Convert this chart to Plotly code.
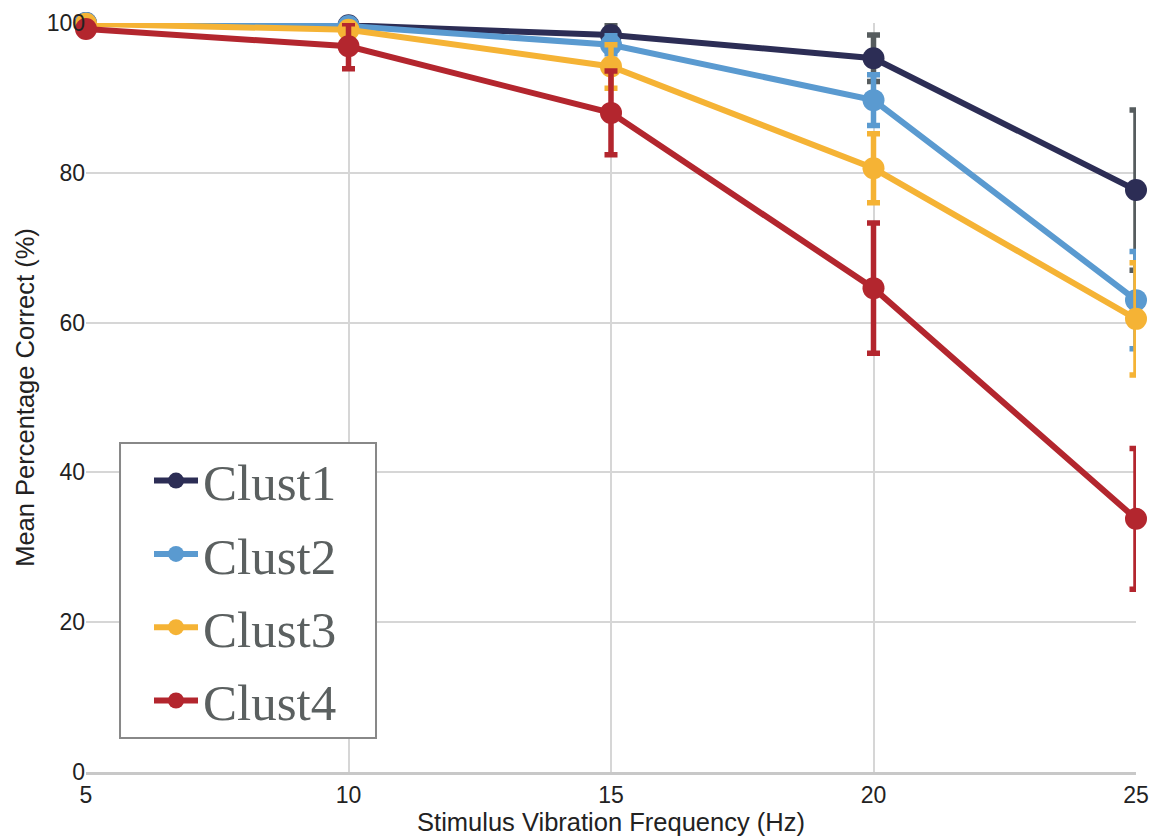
import plotly.graph_objects as go

freq = [5, 10, 15, 20, 25]
series = ["Clust1", "Clust2", "Clust3", "Clust4"]
clust1 = [100.0, 99.7, 98.4, 95.3, 77.7]
clust1_err = [0.3, 0.4, 1.3, 3.1, 10.7]
clust2 = [100.0, 99.6, 97.1, 89.7, 63.0]
clust2_err = [0.3, 0.6, 1.2, 3.4, 6.5]
clust3 = [99.9, 99.1, 94.2, 80.6, 60.5]
clust3_err = [0.3, 0.8, 2.9, 4.6, 7.5]
clust4 = [99.2, 96.9, 88.0, 64.6, 33.8]
clust4_err = [0.5, 3.0, 5.6, 8.7, 9.4]

values = [clust1, clust2, clust3, clust4]
errors = [clust1_err, clust2_err, clust3_err, clust4_err]
colors = ["#2c2d55", "#5a9ad0", "#f5b335", "#b3262e"]
err_colors = ["#565c5e", "#5a9ad0", "#f5b335", "#b3262e"]

fig = go.Figure()
for name, v, e, c, ec in zip(series, values, errors, colors, err_colors):
    fig.add_trace(go.Scatter(
        x=freq, y=v, name=name, mode="lines+markers", legendgroup=name,
        line=dict(color=c, width=6),
        marker=dict(color=c, size=22),
        error_y=dict(type="data", array=e, visible=True, color=ec,
                     thickness=5.5, width=6.5),
        cliponaxis=False,
    ))

# legend frame
fig.add_shape(type="rect", xref="paper", yref="paper",
              x0=0.0324, x1=0.2762, y0=0.0454, y1=0.4393,
              fillcolor="white", line=dict(color="#888888", width=2),
              layer="above")

fig.update_layout(
    width=1153, height=838,
    margin=dict(l=86, r=17, t=23, b=66, autoexpand=False),
    paper_bgcolor="white", plot_bgcolor="white",
    font=dict(family="Liberation Sans, Arial", size=22, color="#222222"),
    xaxis=dict(
        range=[5, 25], tickvals=freq, showgrid=True, gridcolor="#d6d6d6", gridwidth=2,
        zeroline=False, showline=True, linecolor="#c8c8c8", linewidth=3,
        title=dict(text="Stimulus Vibration Frequency (Hz)", standoff=6,
                   font=dict(size=25.5)),
        ticks="", ticklen=0, tickfont=dict(size=23),
    ),
    yaxis=dict(
        range=[0, 100], tickvals=[0, 20, 40, 60, 80, 100], showgrid=True,
        gridcolor="#d6d6d6", gridwidth=2, zeroline=False, showline=False,
        title=dict(text="Mean Percentage Correct (%)", standoff=4, font=dict(size=25.5)),
        ticks="", tickfont=dict(size=23),
    ),
    legend=dict(
        x=0.06, y=0.442, xanchor="left", yanchor="top",
        bgcolor="rgba(0,0,0,0)", borderwidth=0,
        font=dict(family="Liberation Serif, DejaVu Serif, serif", size=51, color="#5b6060"),
        tracegroupgap=4, itemwidth=44,
    ),
)

fig.write_html("out.html")
